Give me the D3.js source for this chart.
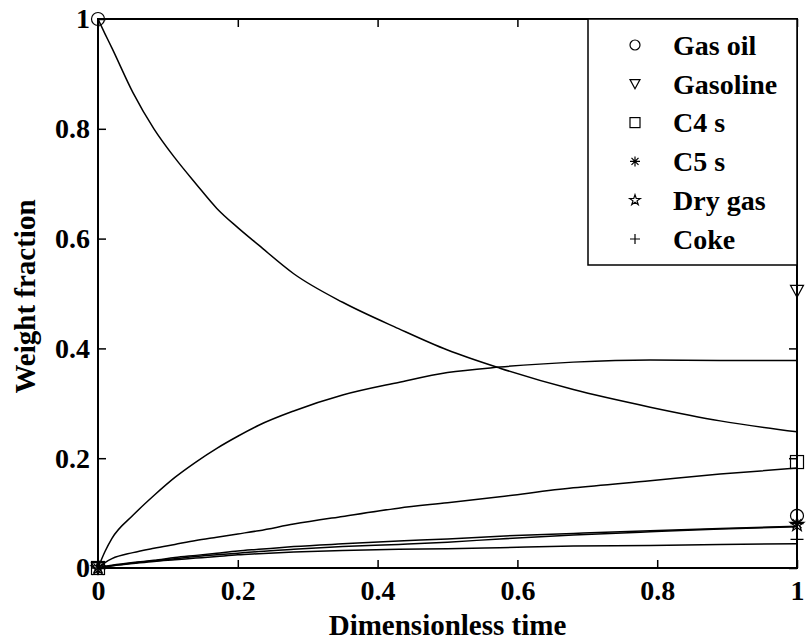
<!DOCTYPE html>
<html>
<head>
<meta charset="utf-8">
<script src="https://cdn.jsdelivr.net/npm/d3@7"></script>
<style>
  body { margin: 0; background: #fff; }
  text { font-family: "Liberation Serif", "Times New Roman", Times, "DejaVu Serif", serif; fill: #000; font-weight: bold; }
</style>
</head>
<body>
<div id="chart"></div>
<script>
// time grid and model curves
var timeGrid = [0, 0.01, 0.02, 0.05, 0.08, 0.11, 0.14, 0.17, 0.2, 0.23, 0.28, 0.35, 0.43, 0.5, 0.575, 0.68, 0.79, 0.89, 1];
var gasOil   = [1, 0.973, 0.947, 0.866, 0.8, 0.747, 0.7, 0.655, 0.62, 0.588, 0.536, 0.484, 0.436, 0.397, 0.364, 0.325, 0.293, 0.268, 0.248];
var gasoline = [0, 0.03, 0.054, 0.096, 0.132, 0.165, 0.193, 0.218, 0.24, 0.26, 0.286, 0.315, 0.338, 0.356, 0.366, 0.375, 0.379, 0.378, 0.378];
var c4s      = [0, 0.01, 0.017, 0.028, 0.036, 0.043, 0.05, 0.056, 0.062, 0.068, 0.08, 0.094, 0.109, 0.119, 0.13, 0.146, 0.159, 0.171, 0.182];
var c5s      = [0, 0.003, 0.005, 0.01, 0.014, 0.019, 0.023, 0.027, 0.031, 0.034, 0.039, 0.044, 0.049, 0.053, 0.058, 0.063, 0.068, 0.072, 0.076];
var dryGas   = [0, 0.002, 0.004, 0.009, 0.013, 0.017, 0.021, 0.024, 0.027, 0.03, 0.034, 0.039, 0.043, 0.047, 0.053, 0.06, 0.066, 0.071, 0.075];
var coke     = [0, 0.002, 0.004, 0.008, 0.012, 0.015, 0.018, 0.021, 0.024, 0.026, 0.029, 0.032, 0.034, 0.035, 0.037, 0.04, 0.041, 0.043, 0.044];

// experimental points at t = 0 and t = 1
var expTimes = [0, 1];
var expGasOil   = [1, 0.095];
var expGasoline = [0, 0.505];
var expC4s      = [0, 0.193];
var expC5s      = [0, 0.081];
var expDryGas   = [0, 0.079];
var expCoke     = [0, 0.052];

var seriesNames = ["Gas oil", "Gasoline", "C4 s", "C5 s", "Dry gas", "Coke"];
var xTicks = [0, 0.2, 0.4, 0.6, 0.8, 1];
var yTicks = [0, 0.2, 0.4, 0.6, 0.8, 1];

var margin = {top: 19, right: 10, bottom: 76, left: 98};
var width = 807 - margin.left - margin.right,
    height = 644 - margin.top - margin.bottom;

var svg = d3.select("#chart").append("svg")
    .attr("width", 807)
    .attr("height", 644)
  .append("g")
    .attr("transform", "translate(" + margin.left + "," + margin.top + ")");

var xScale = d3.scaleLinear().domain([0, 1]).range([0, width]);
var yScale = d3.scaleLinear().domain([0, 1]).range([height, 0]);

var fmt = function(d) { return d3.format("~g")(d); };
var fontSize = "28px";
var fontFam = '"Liberation Serif", "Times New Roman", Times, "DejaVu Serif", serif';

// axes with inward ticks
var xAxis = d3.axisBottom(xScale).tickValues(xTicks).tickFormat(fmt).tickSizeInner(-8).tickSizeOuter(0).tickPadding(12);
var yAxis = d3.axisLeft(yScale).tickValues(yTicks).tickFormat(fmt).tickSizeInner(-8).tickSizeOuter(0).tickPadding(8);
var xTop = d3.axisTop(xScale).tickValues(xTicks).tickFormat("").tickSizeInner(-8).tickSizeOuter(0);
var yRight = d3.axisRight(yScale).tickValues(yTicks).tickFormat("").tickSizeInner(-8).tickSizeOuter(0);

function styleAxis(g) {
  g.attr("font-family", null).attr("font-size", null);
  g.select(".domain").remove();
  g.selectAll("line").attr("stroke", "#000").attr("stroke-width", 1.5);
  g.selectAll("text").style("font-size", fontSize).style("font-family", fontFam).attr("fill", "#000");
}

svg.append("g").attr("transform", "translate(0," + height + ")").call(xAxis).call(styleAxis);
svg.append("g").call(yAxis).call(styleAxis);
svg.append("g").call(xTop).call(styleAxis);
svg.append("g").attr("transform", "translate(" + width + ",0)").call(yRight).call(styleAxis);

// frame
svg.append("rect")
    .attr("x", 0).attr("y", 0)
    .attr("width", width).attr("height", height)
    .attr("fill", "none").attr("stroke", "#000").attr("stroke-width", 2);

// model curves
var curves = [gasOil, gasoline, c4s, c5s, dryGas, coke];
var line = d3.line()
    .x(function(d) { return xScale(d[0]); })
    .y(function(d) { return yScale(d[1]); })
    .curve(d3.curveMonotoneX);

curves.forEach(function(vals) {
  svg.append("path")
      .datum(timeGrid.map(function(t, i) { return [t, vals[i]]; }))
      .attr("d", line)
      .attr("fill", "none")
      .attr("stroke", "#000")
      .attr("stroke-width", 1.5);
});

// marker drawing
function drawMarker(g, type, size) {
  var s = size;
  if (type == "circle") {
    g.append("circle").attr("r", s / 2);
  } else if (type == "triangle") {
    g.append("path").attr("d", "M" + (-s/2) + "," + (-s/2.4) + "L" + (s/2) + "," + (-s/2.4) + "L0," + (s/2) + "Z");
  } else if (type == "square") {
    g.append("rect").attr("x", -s/2).attr("y", -s/2).attr("width", s).attr("height", s);
  } else if (type == "asterisk") {
    var r = s / 2;
    g.append("path").attr("d",
      "M0," + (-r) + "L0," + r +
      "M" + (-r) + ",0L" + r + ",0" +
      "M" + (-r*0.7) + "," + (-r*0.7) + "L" + (r*0.7) + "," + (r*0.7) +
      "M" + (-r*0.7) + "," + (r*0.7) + "L" + (r*0.7) + "," + (-r*0.7));
  } else if (type == "star") {
    g.append("path").attr("d", d3.symbol(d3.symbolStar, s * s * 0.35)());
  } else if (type == "plus") {
    g.append("path").attr("d", "M0," + (-s/2) + "L0," + (s/2) + "M" + (-s/2) + ",0L" + (s/2) + ",0");
  }
  g.selectAll("*").attr("fill", "none").attr("stroke", "#000").attr("stroke-width", 1.2);
}

var markerTypes = ["circle", "triangle", "square", "asterisk", "star", "plus"];
var expData = [expGasOil, expGasoline, expC4s, expC5s, expDryGas, expCoke];

expData.forEach(function(vals, k) {
  expTimes.forEach(function(t, i) {
    var g = svg.append("g")
        .attr("transform", "translate(" + xScale(t) + "," + yScale(vals[i]) + ")");
    drawMarker(g, markerTypes[k], 13);
  });
});

// legend
var legend = svg.append("g").attr("transform", "translate(" + (588 - margin.left) + ",0)");
legend.append("rect")
    .attr("x", 0).attr("y", 0)
    .attr("width", 797 - 588).attr("height", 265 - margin.top)
    .attr("fill", "#fff").attr("stroke", "#000").attr("stroke-width", 1.5);

seriesNames.forEach(function(name, i) {
  var cy = 26 + i * 38.8;
  var g = legend.append("g").attr("transform", "translate(47," + cy + ")");
  drawMarker(g, markerTypes[i], 10);
  legend.append("text")
      .attr("x", 85)
      .attr("y", cy)
      .attr("dy", "0.35em")
      .style("font-size", fontSize)
      .text(name);
});

// axis labels
svg.append("text")
    .attr("x", width / 2)
    .attr("y", height + 67)
    .attr("text-anchor", "middle")
    .style("font-size", "29px")
    .text("Dimensionless time");

svg.append("text")
    .attr("transform", "translate(" + (-63) + "," + (height / 2 + 3) + ") rotate(-90)")
    .attr("text-anchor", "middle")
    .style("font-size", "29px")
    .text("Weight fraction");
</script>
</body>
</html>
